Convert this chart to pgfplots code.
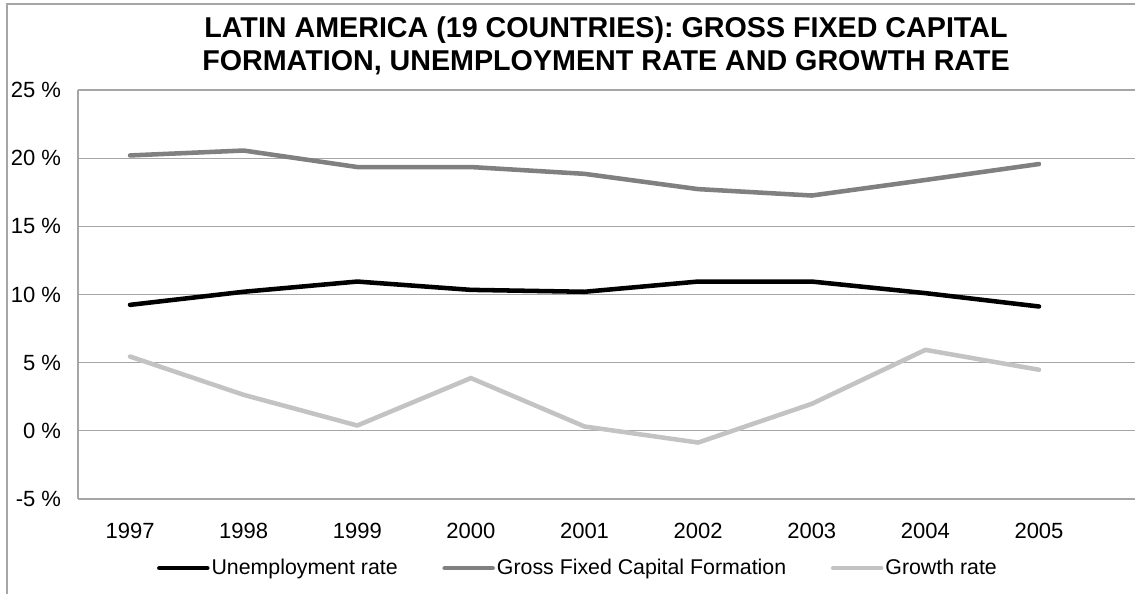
\documentclass[border=0pt]{standalone}
\usepackage{pgfplots}
\pgfplotsset{compat=1.18}
\usepackage{fontspec}
\setmainfont{Liberation Sans}
\definecolor{gfcfcol}{HTML}{808080}
\definecolor{growcol}{HTML}{C3C3C3}
\definecolor{gridc}{HTML}{A6A6A6}
\begin{document}
\begin{tikzpicture}[x=1pt,y=1pt]
\useasboundingbox (0,0) rectangle (851.25,445.5);
\draw[gridc,line width=0.8pt] (5.25,0) -- (5.25,442.5) -- (860,442.5);
\node[font=\fontsize{21.5}{24}\selectfont\bfseries] at (454.5,423) {LATIN AMERICA (19 COUNTRIES): GROSS FIXED CAPITAL};
\node[font=\fontsize{21.5}{24}\selectfont\bfseries] at (454.5,398.25) {FORMATION, UNEMPLOYMENT RATE AND GROWTH RATE};
\begin{axis}[
  at={(58.5pt,71.25pt)}, anchor=south west,
  scale only axis, width=792.75pt, height=306.75pt,
  xmin=0.542, xmax=9.845, ymin=-5, ymax=25,
  axis lines*=left, axis line style={gridc,line width=0.8pt,-},
  xtick={1,...,9},
  xticklabels={1997,1998,1999,2000,2001,2002,2003,2004,2005},
  ytick={-5,0,5,10,15,20,25},
  ymajorgrids, grid style={gridc,line width=0.8pt},
  major tick length=0pt,
  /pgf/number format/assume math mode=true,
  yticklabel={\pgfmathprintnumber{\tick} \%},
  tick label style={font=\fontsize{16.5}{19}\selectfont},
  yticklabel style={anchor=east,inner sep=0pt,xshift=-12.5pt},
  xticklabel style={anchor=north,inner sep=0pt,yshift=-18pt},
  legend columns=3,
  legend style={at={(axis description cs:0.473,-0.169)},anchor=center,draw=none,fill=none,
    font=\fontsize{16}{19}\selectfont, column sep=0pt,
    nodes={inner sep=1.5pt},
    /tikz/column 2/.style={column sep=32pt},
    /tikz/column 4/.style={column sep=32pt}},
  legend image code/.code={\draw[#1,line cap=round] (0pt,0pt) -- (36pt,0pt);},
  every axis plot/.append style={line width=3.4pt, line join=round, line cap=round},
]
\addplot[black] coordinates {(1,9.24) (2,10.2) (3,10.95) (4,10.34) (5,10.2) (6,10.95) (7,10.95) (8,10.1) (9,9.12)};
\addlegendentry{Unemployment rate}
\addplot[gfcfcol] coordinates {(1,20.2) (2,20.56) (3,19.35) (4,19.35) (5,18.85) (6,17.73) (7,17.26) (8,18.4) (9,19.57)};
\addlegendentry{Gross Fixed Capital Formation}
\addplot[growcol] coordinates {(1,5.45) (2,2.64) (3,0.39) (4,3.87) (5,0.32) (6,-0.86) (7,1.98) (8,5.94) (9,4.48)};
\addlegendentry{Growth rate}
\end{axis}
\end{tikzpicture}
\end{document}
